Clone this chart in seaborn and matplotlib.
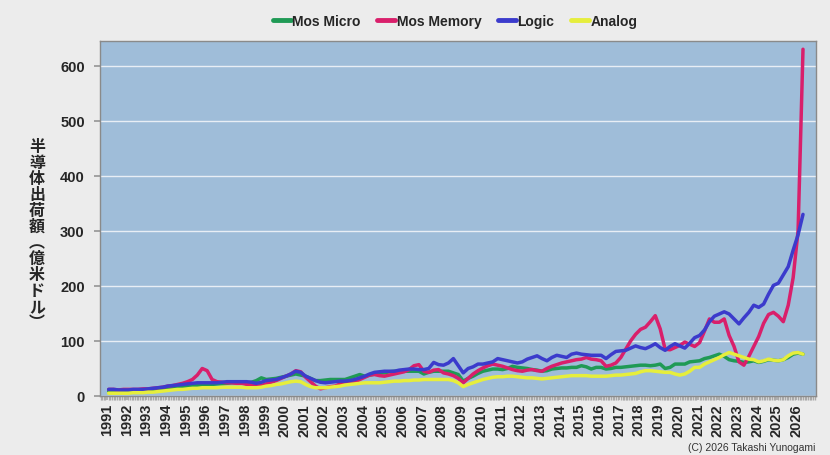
import numpy as np
import pandas as pd
import matplotlib
matplotlib.use("Agg")
import matplotlib.pyplot as plt
import seaborn as sns
from matplotlib.lines import Line2D
from matplotlib.ticker import MultipleLocator

# Quarterly values (億米ドル), 1991Q1 .. 2026Q2
mos_micro = [
    9, 9, 9, 9,  9, 10, 10, 10,  11, 11, 12, 13,  14, 15, 15, 16,
    17, 18, 19, 20,  21, 21, 22, 22,  23, 24, 24, 24,  24, 25, 28, 33,
    30, 31, 32, 34,  36, 38, 40, 38,  36, 32, 28, 28,  29, 30, 30, 30,
    30, 33, 36, 39,  36, 38, 40, 42,  42, 44, 45, 45,  45, 45, 45, 45,
    40, 43, 45, 45,  45, 45, 42, 39,  27, 32, 36, 41,  45, 47, 49, 49,
    48, 50, 54, 52,  51, 50, 48, 47,  45, 46, 49, 50,  51, 51, 52, 52,
    55, 53, 49, 52,  52, 49, 50, 52,  52, 53, 54, 55,  56, 56, 55, 56,
    58, 50, 52, 58,  58, 58, 62, 63,  64, 68, 70, 73,  76, 72, 66, 64,
    63, 61, 62, 64,  61, 63, 66, 65,  64, 66, 70, 76,  78, 76,
]
mos_memory = [
    12, 12, 11, 12,  12, 12, 12, 13,  13, 14, 15, 16,  18, 19, 21, 23,
    26, 30, 38, 50,  46, 30, 26, 25,  24, 24, 23, 23,  21, 20, 18, 19,
    22, 25, 28, 32,  36, 40, 46, 44,  34, 26, 18, 13,  15, 17, 18, 22,
    24, 24, 25, 30,  34, 38, 39, 37,  36, 38, 40, 42,  44, 48, 55, 57,
    45, 43, 47, 48,  42, 40, 37, 32,  24, 32, 40, 46,  51, 55, 58, 56,
    54, 51, 48, 46,  45, 47, 48, 46,  45, 50, 54, 57,  60, 62, 64, 66,
    67, 70, 67, 66,  64, 54, 56, 60,  70, 85, 100, 112,  121, 125, 135, 146,
    122, 85, 84, 88,  92, 98, 94, 90,  97, 118, 140, 134,  134, 140, 110, 90,
    62, 56, 72, 90,  108, 132, 148, 152,  145, 135, 165, 215,  300, 630,
]
logic = [
    12, 12, 11, 11,  11, 12, 12, 12,  13, 14, 15, 16,  18, 19, 20, 21,
    22, 23, 24, 24,  24, 24, 24, 25,  26, 26, 26, 26,  26, 25, 23, 25,
    28, 29, 30, 33,  36, 40, 45, 43,  36, 32, 28, 25,  24, 25, 26, 27,
    27, 28, 30, 33,  36, 40, 43, 44,  45, 45, 45, 47,  48, 49, 49, 48,
    48, 50, 61, 57,  56, 60, 68, 55,  42, 50, 53, 58,  58, 60, 62, 68,
    66, 64, 62, 60,  62, 67, 70, 73,  68, 64, 70, 74,  72, 70, 76, 78,
    76, 75, 74, 74,  74, 68, 75, 81,  82, 83, 87, 91,  88, 86, 90, 95,
    88, 83, 90, 95,  91, 87, 96, 106,  110, 120, 135, 145,  149, 153, 149, 140,
    131, 142, 152, 165,  161, 167, 185, 201,  205, 220, 235, 265,  293, 330,
]
analog = [
    5, 5, 5, 5,  5, 6, 6, 6,  7, 7, 8, 9,  10, 11, 12, 12,
    13, 14, 14, 15,  15, 15, 15, 16,  16, 16, 16, 16,  15, 15, 15, 16,
    18, 19, 21, 22,  24, 26, 27, 26,  21, 17, 15, 15,  15, 16, 17, 18,
    20, 21, 22, 23,  24, 24, 24, 24,  25, 26, 27, 27,  28, 28, 29, 29,
    30, 30, 30, 30,  30, 30, 28, 24,  17, 21, 24, 27,  30, 32, 34, 35,
    35, 36, 36, 35,  34, 33, 33, 32,  31, 32, 33, 34,  35, 36, 37, 37,
    37, 37, 36, 36,  36, 36, 37, 38,  38, 39, 40, 41,  44, 46, 46, 45,
    44, 43, 43, 40,  38, 40, 45, 52,  52, 58, 62, 66,  70, 75, 79, 76,
    73, 70, 67, 66,  62, 64, 67, 65,  64, 66, 73, 78,  79, 76,
]
series_names = ["Mos Micro", "Mos Memory", "Logic", "Analog"]
year_labels = [str(y) for y in range(1991, 2027)]

n = len(logic)
t = 1991.08 + np.arange(n) * 0.25
df = pd.concat([
    pd.DataFrame({"t": t, "v": vals, "s": name})
    for name, vals in zip(series_names, [mos_micro, mos_memory, logic, analog])
])

colors = {"Mos Micro": "#1f9a55", "Mos Memory": "#d91f6b",
          "Logic": "#3b3bcc", "Analog": "#e6ee3c"}

sns.set_theme(style="white")
plt.rcParams['font.family'] = ['Liberation Sans', 'DejaVu Sans']

fig = plt.figure(figsize=(8.3, 4.56), dpi=100, facecolor="#ececec")
ax = fig.add_axes([100/830, 1 - 397/456, (816-100)/830, (397-42)/456])
ax.set_facecolor("#9fbdd9")

sns.lineplot(data=df, x="t", y="v", hue="s", palette=colors, linewidth=2.5,
             ax=ax, legend=False, hue_order=series_names)

ax.set_xlim(1990.64, 2026.99)
ax.set_ylim(0, 645)
ax.set_yticks(range(0, 700, 100))
ax.set_yticklabels([str(v) for v in range(0, 700, 100)], fontsize=10.5, fontweight="bold")
ax.set_xticks(range(1991, 2027))
ax.set_xticklabels(year_labels, rotation=90, fontsize=10.5, fontweight="bold")
ax.xaxis.set_minor_locator(MultipleLocator(1/12))
ax.tick_params(axis="x", which="both", length=3, color="#aaaaaa", direction="out", pad=2, bottom=True)
ax.tick_params(axis="y", length=4, color="#999999", left=True, pad=7)
ax.grid(axis="y", color="#e8eef5", linewidth=1.0)
ax.set_axisbelow(True)
for sp in ax.spines.values():
    sp.set_color("#8a8a8a")
    sp.set_linewidth(1.0)
ax.set_xlabel("")
ax.set_ylabel("")

ylab = "半導体出荷額︵億米ドル︶"
fig.text(37/830, 1 - 235/456, "\n".join(ylab), ha="center", va="center",
         fontsize=11.5, fontweight="bold", linespacing=1.0,
         family=["Noto Sans CJK JP", "DejaVu Sans"])

handles = [Line2D([0], [0], color=colors[s], linewidth=3.5) for s in series_names]
leg = fig.legend(handles, series_names, loc="center", bbox_to_anchor=(455/830, 1 - 22/456),
                 ncol=4, frameon=False, handlelength=1.3, handletextpad=0.1,
                 columnspacing=1.2, prop={"size": 10, "weight": "bold",
                                          "family": "Liberation Sans"})

fig.text(815/830, 1 - 448/456, "(C) 2026 Takashi Yunogami", ha="right", va="center",
         fontsize=7.5, color="#333333")

fig.savefig("out.png", dpi=100, facecolor=fig.get_facecolor())
